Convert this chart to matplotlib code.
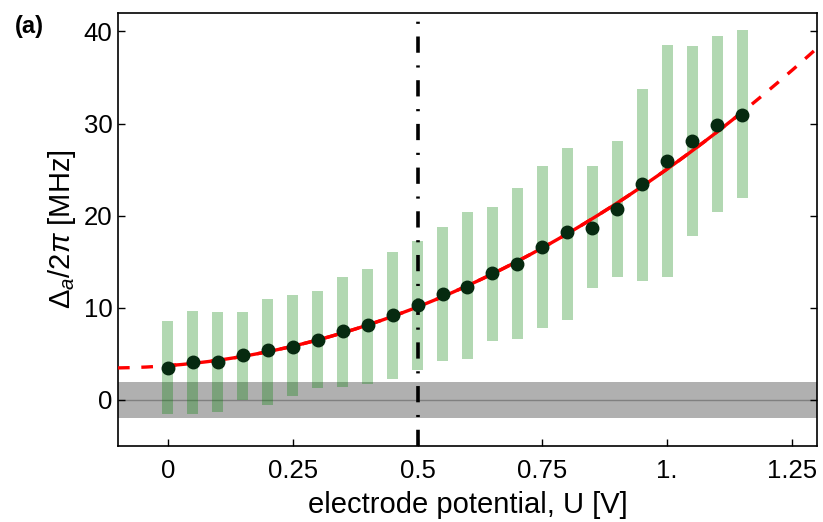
import numpy as np
import matplotlib
matplotlib.use("Agg")
import matplotlib.pyplot as plt

plt.rcParams['font.family'] = ['Liberation Sans', 'DejaVu Sans']
plt.rcParams['mathtext.fontset'] = 'custom'
plt.rcParams['mathtext.rm'] = 'Liberation Sans'
plt.rcParams['mathtext.it'] = 'Liberation Sans:italic'

# Data
U = [0.0, 0.05, 0.10, 0.15, 0.20, 0.25, 0.30, 0.35, 0.40, 0.45, 0.50, 0.55,
     0.60, 0.65, 0.70, 0.75, 0.80, 0.85, 0.90, 0.95, 1.00, 1.05, 1.10, 1.15]
delta = [3.5, 4.1, 4.1, 4.9, 5.4, 5.7, 6.5, 7.5, 8.1, 9.2, 10.3, 11.5,
         12.3, 13.8, 14.8, 16.6, 18.2, 18.7, 20.7, 23.4, 25.9, 28.1, 29.8, 30.9]
err_top = [8.6, 9.6, 9.5, 9.5, 11.0, 11.35, 11.8, 13.3, 14.25, 16.1, 17.3, 18.8,
           20.35, 20.95, 23.05, 25.4, 27.4, 25.4, 28.1, 33.8, 38.55, 38.4, 39.5, 40.2]
err_bot = [-1.5, -1.5, -1.35, 0.0, -0.55, 0.4, 1.3, 1.45, 1.75, 2.25, 3.3, 4.2,
           4.45, 6.35, 6.6, 7.8, 8.7, 12.15, 13.35, 12.9, 13.35, 17.8, 20.4, 21.9]
noise_band = 2.0
U_marker = 0.5
xticks = [0, 0.25, 0.5, 0.75, 1.0, 1.25]
xticklabels = ['0', '0.25', '0.5', '0.75', '1.', '1.25']
yticks = [0, 10, 20, 30, 40]

U_a = np.array(U)
d_a = np.array(delta)
top_a = np.array(err_top)
bot_a = np.array(err_bot)

fig = plt.figure(figsize=(8.23, 5.22), dpi=100)
ax = fig.add_axes([118/823, 1-446/522, (817-118)/823, (446-13)/522])

ax.axhspan(-noise_band, noise_band, color='#b0b0b0', lw=0, zorder=1)
ax.axhline(0, color='#808080', lw=1.0, zorder=1.5)

ax.bar(U_a, top_a - bot_a, bottom=bot_a, width=0.022,
       color=(0.0, 0.5, 0.0, 0.3), lw=0, zorder=2)

ax.axvline(U_marker, color='black', lw=2.6, dashes=(4.5, 3.5, 0.6, 3.5), zorder=3)

sigma = (top_a - bot_a) / 2
coef = np.polyfit(U_a, d_a, 2, w=1/sigma)
xs_full = np.linspace(-0.1, 1.3, 300)
xs_in = np.linspace(U_a[0], U_a[-1], 300)
ax.plot(xs_full, np.polyval(coef, xs_full), color='red', lw=2.4, dashes=(3.5, 3.5), zorder=4)
ax.plot(xs_in, np.polyval(coef, xs_in), color='red', lw=2.4, zorder=5)

ax.plot(U_a, d_a, 'o', color='#062a10', ms=9, zorder=6, mec='#062a10')

ax.set_xlim(-0.1, 1.3)
ax.set_ylim(-5, 42)
ax.set_xticks(xticks)
ax.set_xticklabels(xticklabels)
ax.set_yticks(yticks)
ax.tick_params(direction='in', length=5, width=1, labelsize=18.5,
               right=True, top=False)
ax.tick_params(axis='x', pad=9)
ax.tick_params(axis='y', pad=4)
for s in ax.spines.values():
    s.set_linewidth(1.2)

ax.set_xlabel('electrode potential, U [V]', fontsize=21, labelpad=6)
ax.set_ylabel(r'$\Delta_a/2\pi$ [MHz]', fontsize=21, labelpad=4)
fig.text(15/823, 1-27/522, '(a)', fontsize=17, fontweight='bold', va='center')

fig.savefig('out.png', dpi=100)
